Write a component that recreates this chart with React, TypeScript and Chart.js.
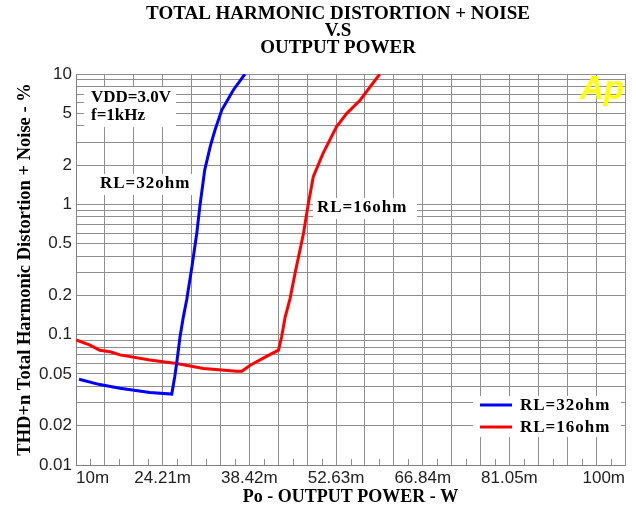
import React, { useEffect, useRef } from 'react';
import { Chart, registerables } from 'chart.js';

Chart.register(...registerables);

// ---- text ----
const titleLines = ['TOTAL HARMONIC DISTORTION + NOISE', 'V.S', 'OUTPUT POWER'];
const xAxisTitle = 'Po - OUTPUT POWER - W';
const yAxisTitle = 'THD+n Total Harmonic Distortion + Noise - %';
const conditionLines = ['VDD=3.0V', 'f=1kHz'];
const seriesLabels = ['RL=32ohm', 'RL=16ohm'];
const logoText = 'Ap';

// ---- axes ----
const xMin = 10;
const xMax = 100;
const xGridDivisions = 19;
const xTickValues = [10, 24.21, 38.42, 52.63, 66.84, 81.05, 100];
const xTickLabels = ['10m', '24.21m', '38.42m', '52.63m', '66.84m', '81.05m', '100m'];
const yMin = 0.01;
const yMax = 10;
const yTickValues = [0.01, 0.02, 0.05, 0.1, 0.2, 0.5, 1, 2, 5, 10];
const yTickLabels = ['0.01', '0.02', '0.05', '0.1', '0.2', '0.5', '1', '2', '5', '10'];

// ---- data (Po in mW, THD+N in %) ----
const rl32Power = [10.5, 13.9, 17.2, 22.1, 25.7, 26.2, 26.5, 27.05, 27.6, 28.15, 29.0, 29.8, 30.3, 31.1, 32.0, 32.8, 33.9, 35.8, 37.7];
const rl32Thd = [0.0455, 0.0414, 0.0388, 0.036, 0.035, 0.048, 0.06, 0.096, 0.137, 0.185, 0.33, 0.6, 0.96, 1.83, 2.77, 3.73, 5.29, 7.54, 10.0];
const rl16Power = [10.05, 12.3, 13.9, 15.6, 17.2, 22.1, 26.5, 30.9, 33.9, 36.3, 37.2, 38.5, 40.7, 43.2, 43.7, 44.3, 45.1, 46.0, 47.3, 48.1, 48.9, 50.5, 52.7, 54.4, 56.6, 59.8];
const rl16Thd = [0.091, 0.083, 0.076, 0.074, 0.07, 0.064, 0.06, 0.055, 0.0535, 0.0525, 0.0525, 0.058, 0.066, 0.076, 0.096, 0.137, 0.19, 0.31, 0.6, 1.02, 1.63, 2.46, 3.94, 4.99, 6.32, 10.0];

const seriesColors = ['#0000ff', '#ff0000'];

const xGridValues = Array.from({ length: xGridDivisions + 1 }, (_, k) => xMin + (k * (xMax - xMin)) / xGridDivisions);
const yGridValues: number[] = [];
[0.01, 0.1, 1].forEach((d) => {
  for (let m = 1; m <= 9; m++) yGridValues.push(parseFloat((m * d).toPrecision(4)));
});
yGridValues.push(10);

const GRID = '#8e8e8e';
const SERIF = '"Liberation Serif", "Times New Roman", serif';
const SANS = '"Liberation Sans", Arial, sans-serif';

const decorPlugin = {
  id: 'decor',
  beforeDatasetsDraw(chart: any) {
    const { ctx } = chart;
    const xs = chart.scales.x;
    const bottom = chart.chartArea.bottom;
    ctx.save();
    // minor ticks at half divisions
    ctx.strokeStyle = GRID;
    ctx.lineWidth = 1;
    for (let k = 0; k < xGridDivisions; k++) {
      const v = (xGridValues[k] + xGridValues[k + 1]) / 2;
      const px = Math.round(xs.getPixelForValue(v)) + 0.5;
      ctx.beginPath();
      ctx.moveTo(px, bottom);
      ctx.lineTo(px, bottom - 6);
      ctx.stroke();
    }
    // logo
    ctx.fillStyle = '#ffff00';
    ctx.font = `bold italic 33px ${SANS}`;
    ctx.textAlign = 'left';
    ctx.textBaseline = 'alphabetic';
    ctx.fillText(logoText, 580, 99);

    // annotations with white backing
    ctx.font = `bold 17px ${SERIF}`;
    ctx.textBaseline = 'middle';
    ctx.fillStyle = '#ffffff';
    ctx.fillRect(84, 87, 92, 40);
    ctx.fillRect(96, 174, 101, 21);
    ctx.fillRect(313, 198, 104, 21);
    ctx.fillStyle = '#000000';
    ctx.fillText(conditionLines[0], 91, 98);
    ctx.fillText(conditionLines[1], 91, 116);
    (ctx as any).letterSpacing = '1px';
    ctx.fillText(seriesLabels[0], 100, 184);
    ctx.fillText(seriesLabels[1], 317, 208);
    ctx.restore();
  },
  afterDatasetsDraw(chart: any) {
    const { ctx } = chart;
    ctx.save();
    ctx.fillStyle = '#ffffff';
    ctx.fillRect(473, 396, 148, 41);
    const rows = [405, 427];
    chart.data.datasets.forEach((ds: any, i: number) => {
      ctx.strokeStyle = ds.borderColor;
      ctx.lineWidth = 3;
      ctx.beginPath();
      ctx.moveTo(480, rows[i]);
      ctx.lineTo(512, rows[i]);
      ctx.stroke();
      ctx.fillStyle = '#000000';
      ctx.font = `bold 17px ${SERIF}`;
      ctx.textAlign = 'left';
      ctx.textBaseline = 'middle';
      (ctx as any).letterSpacing = '1px';
      ctx.fillText(ds.label, 520, rows[i] + 1);
    });
    (ctx as any).letterSpacing = '0px';
    // chart title
    ctx.font = `bold 19px ${SERIF}`;
    ctx.textAlign = 'center';
    ctx.textBaseline = 'middle';
    const ty = [14, 31, 48];
    titleLines.forEach((t, i) => ctx.fillText(t, 338, ty[i]));
    ctx.restore();
  },
};

export default function App() {
  const ref = useRef<HTMLCanvasElement>(null);
  useEffect(() => {
    const canvas = ref.current;
    if (!canvas) return;
    const chart = new Chart(canvas, {
      type: 'line',
      data: {
        datasets: [
          {
            label: seriesLabels[0],
            data: rl32Power.map((x, i) => ({ x, y: rl32Thd[i] })),
            borderColor: seriesColors[0],
            backgroundColor: seriesColors[0],
            borderWidth: 3,
            pointRadius: 0,
            tension: 0,
            fill: false,
          },
          {
            label: seriesLabels[1],
            data: rl16Power.map((x, i) => ({ x, y: rl16Thd[i] })),
            borderColor: seriesColors[1],
            backgroundColor: seriesColors[1],
            borderWidth: 3,
            pointRadius: 0,
            tension: 0,
            fill: false,
          },
        ],
      },
      options: {
        animation: false,
        responsive: false,
        maintainAspectRatio: false,
        layout: { padding: { top: 74, right: 11, left: 0, bottom: 0 } },
        plugins: {
          legend: { display: false },
          title: { display: false },
          tooltip: { enabled: false },
        },
        scales: {
          x: {
            type: 'linear',
            min: xMin,
            max: xMax,
            afterBuildTicks: (s: any) => {
              s.ticks = xGridValues.map((v) => ({ value: v }));
            },
            afterFit: (s: any) => {
              s.height = 51;
            },
            ticks: {
              autoSkip: false,
              maxRotation: 0,
              minRotation: 0,
              align: 'inner',
              padding: 3,
              color: '#222222',
              font: { family: SANS, size: 17 },
              callback: (v: any) => {
                const i = xTickValues.findIndex((t) => Math.abs(t - Number(v)) < 0.01);
                return i >= 0 ? xTickLabels[i] : '';
              },
            },
            grid: { color: GRID, lineWidth: 1, drawTicks: false },
            border: { color: '#808080', width: 1 },
            title: {
              display: true,
              text: xAxisTitle,
              color: '#000000',
              font: { family: SERIF, size: 18, weight: 'bold' },
              padding: { top: 0, bottom: 8 },
            },
          },
          y: {
            type: 'logarithmic',
            min: yMin,
            max: yMax,
            afterBuildTicks: (s: any) => {
              s.ticks = yGridValues.map((v) => ({ value: v }));
            },
            afterFit: (s: any) => {
              s.width = 76;
            },
            ticks: {
              autoSkip: false,
              padding: 4,
              color: '#222222',
              font: { family: SANS, size: 17 },
              callback: (v: any) => {
                const n = Number(v);
                const i = yTickValues.findIndex((t) => Math.abs(t - n) / t < 1e-6);
                return i >= 0 ? yTickLabels[i] : '';
              },
            },
            grid: { color: GRID, lineWidth: 1, drawTicks: false },
            border: { color: '#808080', width: 1 },
            title: {
              display: true,
              text: yAxisTitle,
              color: '#000000',
              font: { family: SERIF, size: 18.5, weight: 'bold' },
              padding: { top: 14, bottom: 0 },
            },
          },
        },
      } as any,
      plugins: [decorPlugin],
    });
    return () => chart.destroy();
  }, []);
  return (
    <div style={{ position: 'fixed', left: 0, top: 0, width: 636, height: 516, background: '#ffffff' }}>
      <canvas ref={ref} width={636} height={516} style={{ display: 'block', width: 636, height: 516 }} />
    </div>
  );
}
